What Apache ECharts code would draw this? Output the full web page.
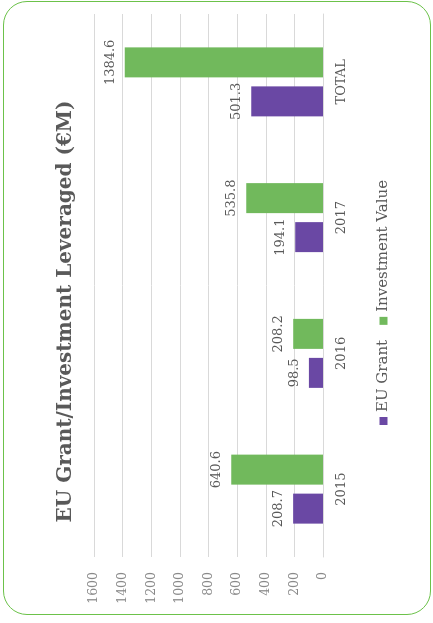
<!DOCTYPE html>
<html>
<head>
    <meta charset="utf-8" />
    <title>EU Grant / Investment Leveraged</title>
    <style>
        html, body { margin: 0; padding: 0; background: #fff; }
        #frame { position: absolute; left: 3px; top: 1px; width: 426px; height: 612px;
                 border: 1.5px solid #6cc24a; border-radius: 24px; }
        /* chart is drawn landscape and turned a quarter turn to the left */
        #divChart { position: absolute; left: 0; top: 0; width: 623px; height: 433px;
                    transform-origin: 0 0; transform: translate(0, 623px) rotate(-90deg); }
    </style>
</head>
<body>
    <div id="frame"></div>
    <div id="divChart"></div>

    <script src="https://cdn.jsdelivr.net/npm/echarts@6/dist/echarts.min.js"></script>
    <script>
        var categories = ['2015', '2016', '2017', 'TOTAL'];
        var euGrant = [208.7, 98.5, 194.1, 501.3];
        var investmentValue = [640.6, 208.2, 535.8, 1384.6];
        var valueTicks = [0, 200, 400, 600, 800, 1000, 1200, 1400, 1600];

        var serif = '"DejaVu Serif", "Liberation Serif", serif';
        var grey = '#595959';

        var myChart = echarts.init(document.getElementById('divChart'));

        var option = {
            animation: false,
            title: {
                text: 'EU Grant/Investment Leveraged (€M)',
                left: 'center',
                top: 51,
                textStyle: { fontFamily: serif, fontSize: 20, fontWeight: 'bold', color: grey }
            },
            legend: {
                left: 193,
                top: 371,
                icon: 'rect',
                itemWidth: 8,
                itemHeight: 8,
                itemGap: 15,
                textStyle: { fontFamily: serif, fontSize: 15, color: grey },
                data: ['EU Grant', 'Investment Value']
            },
            grid: { left: 66, right: 14, top: 94, bottom: 110 },
            xAxis: {
                type: 'category',
                data: categories,
                axisTick: { show: false },
                axisLine: { lineStyle: { color: '#d9d9d9' } },
                axisLabel: { margin: 12, fontFamily: serif, fontSize: 13, color: grey }
            },
            yAxis: {
                type: 'value',
                min: valueTicks[0],
                max: valueTicks[valueTicks.length - 1],
                interval: 200,
                axisLine: { show: false },
                axisTick: { show: false },
                splitLine: { lineStyle: { color: '#d9d9d9' } },
                axisLabel: {
                    margin: 15, fontFamily: serif, fontSize: 12.5, color: '#8a8a8a',
                    formatter: function (v) { return String(v); }
                }
            },
            series: [
                {
                    name: 'EU Grant',
                    type: 'bar',
                    barWidth: 30,
                    barGap: '30%',
                    itemStyle: { color: '#6a48a4' },
                    label: { show: true, position: 'top', distance: 8, fontFamily: serif, fontSize: 13, color: grey },
                    data: euGrant
                },
                {
                    name: 'Investment Value',
                    type: 'bar',
                    barWidth: 30,
                    barGap: '30%',
                    itemStyle: { color: '#71b95c' },
                    label: { show: true, position: 'top', distance: 8, fontFamily: serif, fontSize: 13, color: grey },
                    data: investmentValue
                }
            ]
        };
        myChart.setOption(option);
    </script>
</body>
</html>
